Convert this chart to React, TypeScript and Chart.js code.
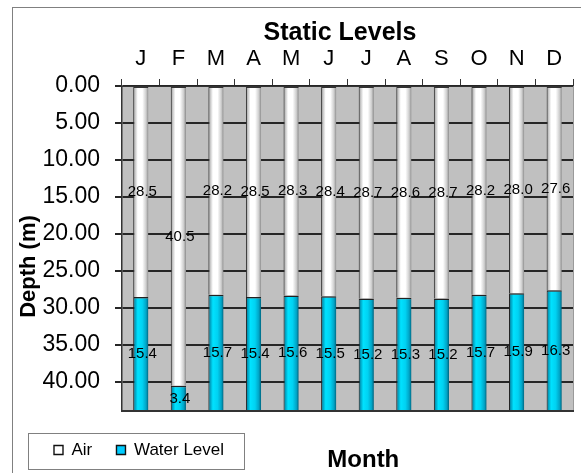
import React, { useEffect, useRef } from 'react';
import { Chart, registerables } from 'chart.js';

Chart.register(...registerables);

// ---- data ----
const months = ['J', 'F', 'M', 'A', 'M', 'J', 'J', 'A', 'S', 'O', 'N', 'D'];
const airDepth = [28.5, 40.5, 28.2, 28.5, 28.3, 28.4, 28.7, 28.6, 28.7, 28.2, 28.0, 27.6];
const waterLevel = [15.4, 3.4, 15.7, 15.4, 15.6, 15.5, 15.2, 15.3, 15.2, 15.7, 15.9, 16.3];
const depthMax = 43.9;
const depthStep = 5;
const seriesNames = ['Air', 'Water Level'];
const chartTitle = 'Static Levels';
const yTitle = 'Depth (m)';
const xTitle = 'Month';

// ---- styles ----
const FONT = '"Liberation Sans", Arial, Helvetica, sans-serif';
const BAR_PCT = 0.405;
const legendFills = ['#ffffff', '#00ccff'];
const airStops: [number, string][] = [
  [0, '#555555'], [0.1, '#bcbcbc'], [0.3, '#ffffff'], [0.6, '#ffffff'], [0.85, '#cdcdcd'], [1, '#8a8a8a'],
];
const waterStops: [number, string][] = [
  [0, '#003c4a'], [0.1, '#0096b6'], [0.3, '#00e2ff'], [0.6, '#00d2f2'], [0.85, '#00a4c6'], [1, '#00627c'],
];

const shade = (stops: [number, string][], solid: string) => (ctx: any) => {
  const chart = ctx.chart;
  const xs = chart.scales && chart.scales.x;
  if (ctx.type !== 'data' || !chart.chartArea || !xs || typeof ctx.dataIndex !== 'number') return solid;
  const cx = xs.getPixelForValue(ctx.dataIndex);
  const half = (xs.width / months.length) * BAR_PCT / 2;
  if (!isFinite(cx) || !isFinite(half)) return solid;
  const g = chart.ctx.createLinearGradient(cx - half, 0, cx + half, 0);
  stops.forEach(([o, c]) => g.addColorStop(o, c));
  return g;
};

const decor = {
  id: 'decor',
  afterLayout(chart: any) {
    const ca = chart.chartArea;
    const lg = chart.legend;
    if (lg) {
      const pad = lg.options.labels.padding;
      const dx = (ca.left - 68) - (lg.left + pad);
      const dy = 6.3;
      lg.left += dx; lg.right += dx; lg.top += dy; lg.bottom += dy;
    }
    const tb = chart.titleBlock;
    if (tb) {
      const c = (ca.left + ca.right) / 2 - 7.5;
      tb.left = c - 230; tb.right = c + 230;
    }
  },
  beforeDraw(chart: any) {
    const { ctx, chartArea: a } = chart;
    ctx.save();
    ctx.fillStyle = '#c0c0c0';
    ctx.fillRect(a.left, a.top, a.right - a.left, a.bottom - a.top);
    ctx.restore();
  },
  afterDatasetsDraw(chart: any) {
    const { ctx, chartArea: a } = chart;
    ctx.save();
    // plot frame bottom / right
    ctx.strokeStyle = '#9a9a9a';
    ctx.lineWidth = 1;
    ctx.beginPath();
    ctx.moveTo(a.right + 0.5, a.top);
    ctx.lineTo(a.right + 0.5, a.bottom);
    ctx.stroke();
    ctx.strokeStyle = '#333333';
    ctx.lineWidth = 2;
    ctx.beginPath();
    ctx.moveTo(a.left, a.bottom);
    ctx.lineTo(a.right + 1, a.bottom);
    ctx.stroke();
    // data labels
    ctx.fillStyle = '#000';
    ctx.font = `15px ${FONT}`;
    ctx.textAlign = 'center';
    ctx.textBaseline = 'middle';
    chart.data.datasets.forEach((ds: any, di: number) => {
      const meta = chart.getDatasetMeta(di);
      meta.data.forEach((el: any, i: number) => {
        const p = el.getProps(['x', 'y', 'base'], true);
        ctx.fillText(Number(ds.data[i]).toFixed(1), p.x + 1.5, (p.y + p.base) / 2);
      });
    });
    ctx.restore();
  },
  afterDraw(chart: any) {
    const { ctx, chartArea: a } = chart;
    ctx.save();
    // outer chart border
    ctx.strokeStyle = '#808080';
    ctx.lineWidth = 1;
    ctx.strokeRect(12.5, 7.5, chart.width + 10, chart.height + 10);
    // legend frame
    const lg = chart.legend;
    if (lg && lg.legendHitBoxes && lg.legendHitBoxes.length) {
      const hb = lg.legendHitBoxes;
      const last = hb[hb.length - 1];
      const l = hb[0].left - 26.3;
      const r = last.left + last.width + 19.7;
      const t = hb[0].top - 8.8;
      const b = hb[0].top + 26.8;
      ctx.strokeStyle = '#808080';
      ctx.strokeRect(Math.round(l) + 0.5, Math.round(t) + 0.5, Math.round(r - l), Math.round(b - t));
    }
    // y-axis title
    ctx.fillStyle = '#000';
    ctx.font = `bold 22px ${FONT}`;
    ctx.textAlign = 'center';
    ctx.textBaseline = 'middle';
    ctx.translate(29, (a.top + a.bottom) / 2 + 18);
    ctx.rotate(-Math.PI / 2);
    ctx.fillText(yTitle, 0, 0);
    ctx.setTransform(1, 0, 0, 1, 0, 0);
    ctx.restore();
    ctx.save();
    // x-axis title
    ctx.fillStyle = '#000';
    ctx.font = `bold 24px ${FONT}`;
    ctx.textAlign = 'center';
    ctx.textBaseline = 'alphabetic';
    ctx.fillText(xTitle, (a.left + a.right) / 2 + 15.8, chart.height - 5.7);
    ctx.restore();
  },
};

export default function App() {
  const ref = useRef<HTMLCanvasElement>(null);
  useEffect(() => {
    if (!ref.current) return;
    Chart.defaults.font.family = FONT;
    Chart.defaults.color = '#000';
    const chart = new Chart(ref.current, {
      type: 'bar',
      data: {
        labels: months,
        datasets: [
          {
            label: seriesNames[0],
            data: airDepth,
            backgroundColor: shade(airStops, legendFills[0]),
            borderColor: '#333333',
            borderWidth: { top: 1, left: 1, right: 0, bottom: 0 },
            borderSkipped: false,
            barPercentage: BAR_PCT,
            categoryPercentage: 1,
          },
          {
            label: seriesNames[1],
            data: waterLevel,
            backgroundColor: shade(waterStops, legendFills[1]),
            borderColor: '#222222',
            borderWidth: { top: 1.5, left: 1, right: 0, bottom: 0 },
            borderSkipped: false,
            barPercentage: BAR_PCT,
            categoryPercentage: 1,
          },
        ],
      },
      options: {
        responsive: true,
        maintainAspectRatio: false,
        animation: false,
        events: [],
        layout: { padding: { left: 12, right: 8, top: 8, bottom: 10.8 } },
        scales: {
          x: {
            position: 'top',
            stacked: true,
            offset: true,
            afterFit: (s: any) => { s.height = 40; },
            grid: { display: true, drawOnChartArea: false, drawTicks: true, tickLength: 7, color: '#333333', offset: true },
            border: { display: true, color: '#333333', width: 1 },
            ticks: { font: { size: 22 }, color: '#000', padding: 6.4, maxRotation: 0, autoSkip: false },
          },
          y: {
            stacked: true,
            reverse: true,
            min: 0,
            max: depthMax,
            afterFit: (s: any) => { s.width = 110; },
            grid: { color: '#262626', lineWidth: 2, tickLength: 7, drawTicks: true },
            border: { display: true, color: '#333333', width: 1.5 },
            ticks: {
              stepSize: depthStep,
              includeBounds: false,
              font: { size: 23 },
              color: '#000',
              padding: 15,
              callback: (v: any) => Number(v).toFixed(2),
            },
          },
        },
        plugins: {
          title: {
            display: true,
            text: chartTitle,
            color: '#000',
            font: { size: 25, weight: 'bold', lineHeight: 1 },
            padding: { top: 12.5, bottom: 0.5 },
          },
          legend: {
            display: true,
            position: 'bottom',
            align: 'start',
            labels: {
              color: '#000',
              font: { size: 17 },
              boxWidth: 9,
              boxHeight: 9,
              padding: 24.2,
              generateLabels: (c: any) =>
                Chart.defaults.plugins.legend.labels.generateLabels(c).map((l: any, i: number) => ({
                  ...l,
                  fillStyle: legendFills[i],
                  lineWidth: 1.4,
                  strokeStyle: '#111111',
                })),
            },
          },
          tooltip: { enabled: false },
        },
      },
      plugins: [decor],
    } as any);
    return () => chart.destroy();
  }, []);
  return (
    <div style={{ position: 'fixed', left: 0, top: 0, width: 581, height: 473, background: '#fff' }}>
      <canvas ref={ref} />
    </div>
  );
}
